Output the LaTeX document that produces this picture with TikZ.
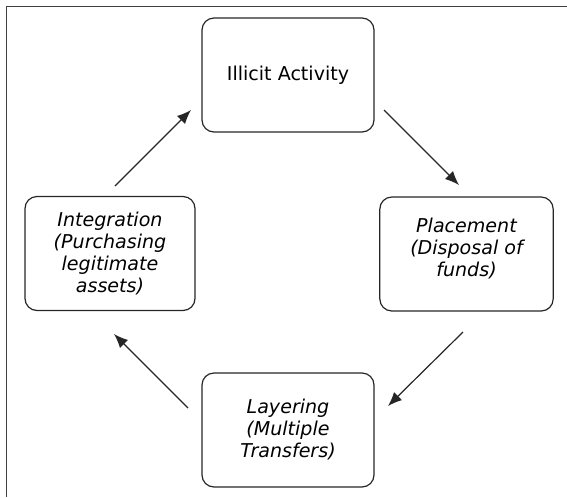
\documentclass[tikz,border=0pt]{standalone}
\usepackage{fontspec}
\setmainfont{DejaVu Sans}
\usetikzlibrary{arrows.meta}

\tikzset{
  stage/.style={draw=black!85, line width=0.9pt, rounded corners=9pt, align=center,
    minimum width=129pt, minimum height=85.5pt, inner sep=2pt,
    font=\fontsize{14.3}{16.5}\selectfont},
  flow/.style={draw=black!85, line width=0.9pt, -{Latex[length=10.5pt,width=8.5pt]}},
}

\begin{document}
\begin{tikzpicture}[x=0.75pt,y=0.75pt,yscale=-1,xscale=1]
	\useasboundingbox (0,0) rectangle (567,497);
	% frame
	\draw [color=black!75, line width=1.1pt] (6.5,497) -- (6.5,6.5) -- (567,6.5) ;
	% stages
	\node [stage] (illicit) at (288,75) {Illicit Activity};
	\node [stage, minimum width=130pt] (placement) at (466.5,254) {\itshape Placement\\\itshape (Disposal of\\\itshape funds)\rule[-10pt]{0pt}{0pt}};
	\node [stage] (layering) at (288,430) {\itshape Layering\\\itshape (Multiple\\\itshape Transfers)};
	\node [stage, minimum width=127.5pt] (integration) at (110,253.5) {\itshape Integration\\\itshape (Purchasing\\\itshape legitimate\\\itshape assets)};
	% arrow ends
	\coordinate (illicit-out) at (384,110);
	\coordinate (placement-in) at (459,185);
	\coordinate (placement-out) at (463,332);
	\coordinate (layering-in) at (388,406);
	\coordinate (layering-out) at (188,408);
	\coordinate (integration-in) at (114,334);
	\coordinate (integration-out) at (115,186);
	\coordinate (illicit-in) at (191,110);
	\draw [flow] (illicit-out) -- (placement-in) ;
	\draw [flow] (placement-out) -- (layering-in) ;
	\draw [flow] (layering-out) -- (integration-in) ;
	\draw [flow] (integration-out) -- (illicit-in) ;
\end{tikzpicture}
\end{document}
